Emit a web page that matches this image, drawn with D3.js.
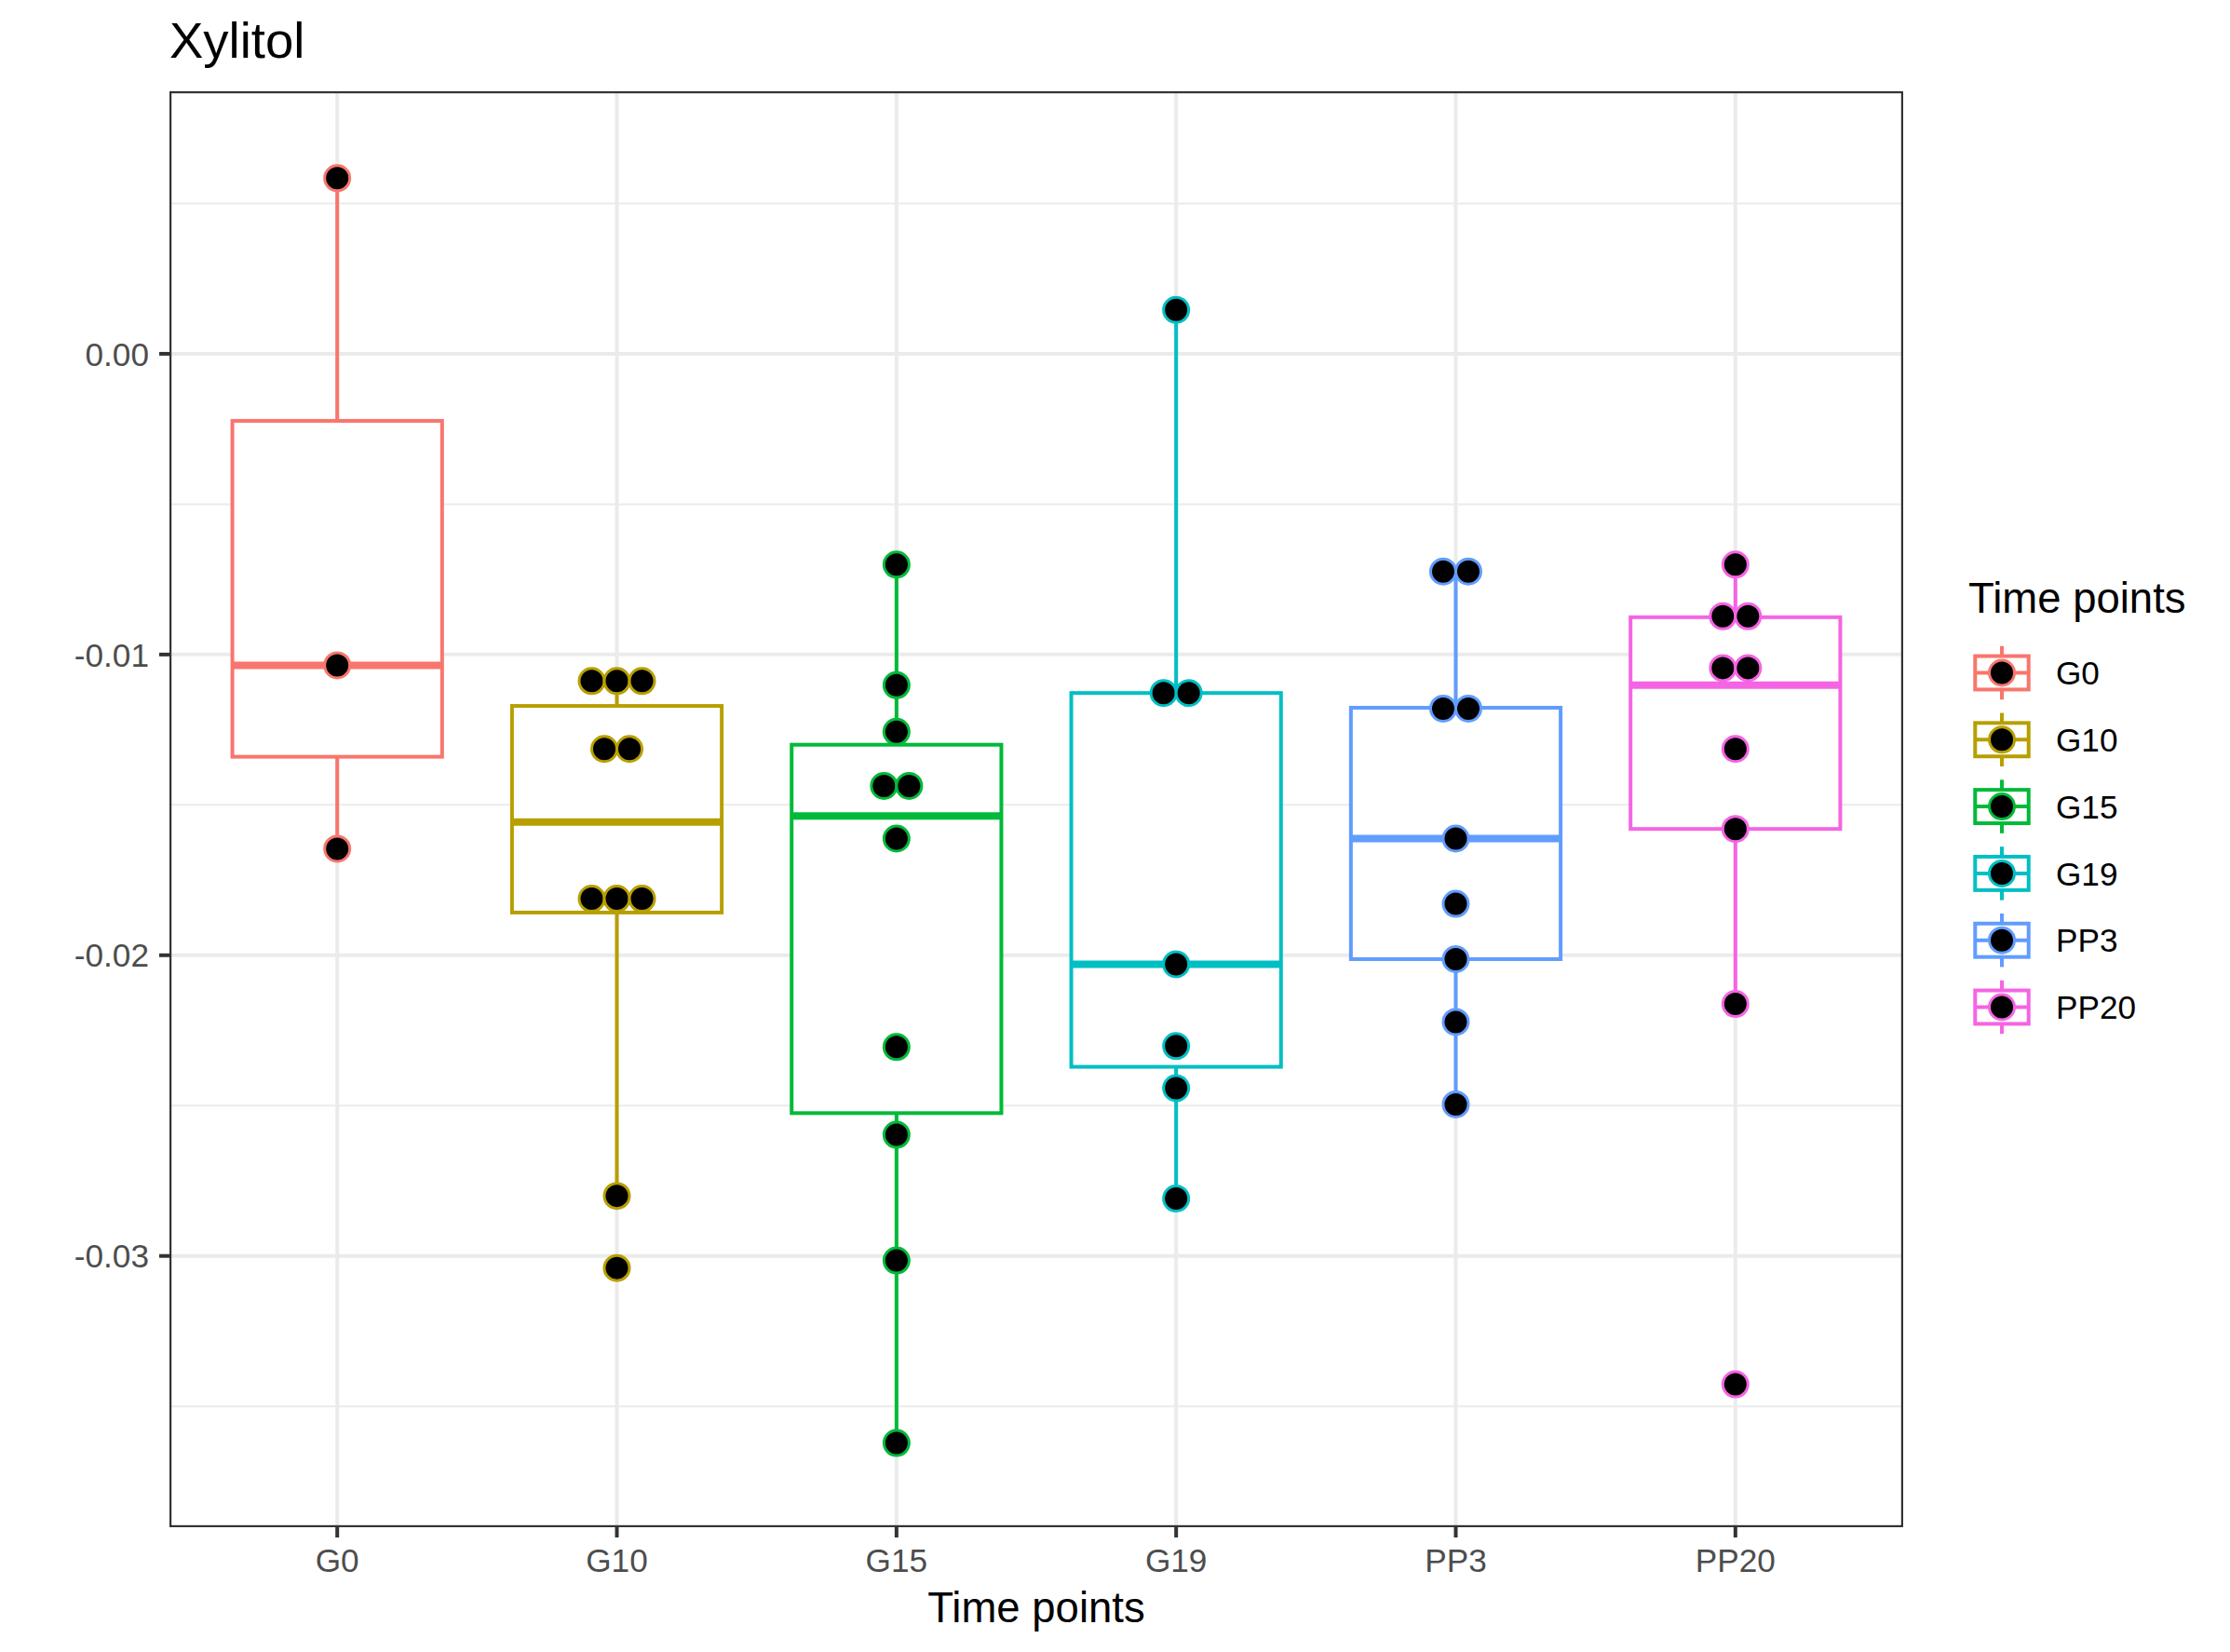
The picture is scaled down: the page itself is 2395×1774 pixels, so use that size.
<!DOCTYPE html>
<html><head><meta charset="utf-8">
<script src="https://cdn.jsdelivr.net/npm/d3@7/dist/d3.min.js"></script>
<style>
body{margin:0;background:#fff}
text{font-family:"Liberation Sans",Arial,Helvetica,sans-serif}
</style>
</head><body>
<svg id="chart" width="2395" height="1774"></svg>
<script>
// ---------- data ----------
const categories = ["G0", "G10", "G15", "G19", "PP3", "PP20"];
const colors = ["#F8766D", "#B79F00", "#00BA38", "#00BFC4", "#619CFF", "#F564E3"];

// dot-plot (binned) values per time point; repeated values stack side by side
const dotsG0   = [0.00584, -0.01036, -0.01646];
const dotsG10  = [-0.01088, -0.01088, -0.01088, -0.01314, -0.01314, -0.01812, -0.01812, -0.01812, -0.02800, -0.03040];
const dotsG15  = [-0.00701, -0.01102, -0.01257, -0.01437, -0.01437, -0.01612, -0.02305, -0.02597, -0.03015, -0.03622];
const dotsG19  = [0.00146, -0.01128, -0.01128, -0.02030, -0.02302, -0.02442, -0.02809];
const dotsPP3  = [-0.00724, -0.00724, -0.01180, -0.01180, -0.01612, -0.01829, -0.02013, -0.02222, -0.02496];
const dotsPP20 = [-0.00701, -0.00873, -0.00873, -0.01045, -0.01045, -0.01314, -0.01580, -0.02162, -0.03427];
const dotSeries = [dotsG0, dotsG10, dotsG15, dotsG19, dotsPP3, dotsPP20];

// box-plot statistics per time point
const whiskerHigh = [0.00584, -0.01088, -0.00701, 0.00146, -0.00724, -0.00701];
const q3s         = [-0.00223, -0.01171, -0.01300, -0.01128, -0.01177, -0.00876];
const medians     = [-0.01036, -0.01557, -0.01537, -0.02030, -0.01612, -0.01102];
const q1s         = [-0.01340, -0.01858, -0.02525, -0.02371, -0.02013, -0.01580];
const whiskerLow  = [-0.01646, -0.02800, -0.03622, -0.02809, -0.02496, -0.02162];

const yMajorTicks = [0.00, -0.01, -0.02, -0.03];
const yMinorTicks = [0.005, -0.005, -0.015, -0.025, -0.035];
const yLimits = [-0.03902, 0.00873];
const dotBinWidth = 0.000836;   // dot diameter in data units

const titleText = "Xylitol";
const xTitle = "Time points";
const legendTitle = "Time points";

// ---------- layout ----------
const P = {left: 182, right: 2044, top: 98, bottom: 1640};
const svg = d3.select("#chart");
svg.append("rect").attr("width", 2395).attr("height", 1774).attr("fill", "#fff");

const x = d3.scalePoint().domain(categories).range([P.left, P.right]).padding(0.6);
const y = d3.scaleLinear().domain(yLimits).range([P.bottom, P.top]);
const step = x.step();
const boxHalf = 0.375 * step;
const lw = 4;
const gridCol = "#EBEBEB";

svg.append("clipPath").attr("id", "panelClip").append("rect")
  .attr("x", P.left).attr("y", P.top).attr("width", P.right - P.left).attr("height", P.bottom - P.top);

const panel = svg.append("g").attr("clip-path", "url(#panelClip)");

// grid
panel.selectAll(".minor").data(yMinorTicks).join("line")
  .attr("x1", P.left).attr("x2", P.right).attr("y1", d => y(d)).attr("y2", d => y(d))
  .attr("stroke", gridCol).attr("stroke-width", 2);
panel.selectAll(".majorY").data(yMajorTicks).join("line")
  .attr("x1", P.left).attr("x2", P.right).attr("y1", d => y(d)).attr("y2", d => y(d))
  .attr("stroke", gridCol).attr("stroke-width", 4);
panel.selectAll(".majorX").data(categories).join("line")
  .attr("y1", P.top).attr("y2", P.bottom).attr("x1", d => x(d)).attr("x2", d => x(d))
  .attr("stroke", gridCol).attr("stroke-width", 4);

// boxplots
categories.forEach((c, i) => {
  const g = panel.append("g");
  const cx = x(c), col = colors[i];
  g.append("line").attr("x1", cx).attr("x2", cx).attr("y1", y(q3s[i])).attr("y2", y(whiskerHigh[i]))
    .attr("stroke", col).attr("stroke-width", lw);
  g.append("line").attr("x1", cx).attr("x2", cx).attr("y1", y(q1s[i])).attr("y2", y(whiskerLow[i]))
    .attr("stroke", col).attr("stroke-width", lw);
  g.append("rect").attr("x", cx - boxHalf).attr("width", 2 * boxHalf)
    .attr("y", y(q3s[i])).attr("height", y(q1s[i]) - y(q3s[i]))
    .attr("fill", "#fff").attr("stroke", col).attr("stroke-width", lw);
  g.append("line").attr("x1", cx - boxHalf).attr("x2", cx + boxHalf)
    .attr("y1", y(medians[i])).attr("y2", y(medians[i]))
    .attr("stroke", col).attr("stroke-width", 2 * lw);
});

// dots (centered stacking of equal binned values)
const dotD = Math.abs(y(0) - y(dotBinWidth));
const dotR = dotD / 2;
categories.forEach((c, i) => {
  const groups = d3.groups(dotSeries[i], v => v);
  const pts = [];
  groups.forEach(([v, arr]) => {
    arr.forEach((_, k) => pts.push({v, off: (k - (arr.length - 1) / 2) * dotD}));
  });
  panel.append("g").selectAll("circle").data(pts).join("circle")
    .attr("cx", d => x(c) + d.off).attr("cy", d => y(d.v)).attr("r", dotR)
    .attr("fill", "#000").attr("stroke", colors[i]).attr("stroke-width", 3);
});

// panel border (clipped half)
panel.append("rect").attr("x", P.left).attr("y", P.top)
  .attr("width", P.right - P.left).attr("height", P.bottom - P.top)
  .attr("fill", "none").attr("stroke", "#333333").attr("stroke-width", 4.4);

// axes
const tickLen = 11;
const axY = svg.append("g");
axY.selectAll("line").data(yMajorTicks).join("line")
  .attr("x1", P.left - tickLen).attr("x2", P.left).attr("y1", d => y(d)).attr("y2", d => y(d))
  .attr("stroke", "#333333").attr("stroke-width", lw);
axY.selectAll("text").data(yMajorTicks).join("text")
  .attr("x", P.left - tickLen - 11).attr("y", d => y(d)).attr("dy", "0.36em")
  .attr("text-anchor", "end").attr("font-size", 35.2).attr("fill", "#4D4D4D")
  .text(d => d3.format(".2f")(d).replace("−", "-"));

const axX = svg.append("g");
axX.selectAll("line").data(categories).join("line")
  .attr("x1", d => x(d)).attr("x2", d => x(d)).attr("y1", P.bottom).attr("y2", P.bottom + tickLen)
  .attr("stroke", "#333333").attr("stroke-width", lw);
axX.selectAll("text").data(categories).join("text")
  .attr("x", d => x(d)).attr("y", 1688)
  .attr("text-anchor", "middle").attr("font-size", 35.2).attr("fill", "#4D4D4D")
  .text(d => d);

svg.append("text").attr("x", (P.left + P.right) / 2).attr("y", 1742)
  .attr("text-anchor", "middle").attr("font-size", 45.5).attr("fill", "#000").text(xTitle);

svg.append("text").attr("x", P.left).attr("y", 62)
  .attr("font-size", 54.5).attr("fill", "#000").text(titleText);

// legend
const keySize = 71.8, keyCx = 2150, keyTop = 722.5 - keySize / 2;
svg.append("text").attr("x", keyCx - keySize / 2).attr("y", 658)
  .attr("font-size", 45.5).attr("fill", "#000").text(legendTitle);
categories.forEach((c, i) => {
  const cy = keyTop + keySize * (i + 0.5);
  const g = svg.append("g");
  const col = colors[i];
  g.append("line").attr("x1", keyCx).attr("x2", keyCx).attr("y1", cy - 0.4 * keySize).attr("y2", cy - 0.25 * keySize)
    .attr("stroke", col).attr("stroke-width", lw);
  g.append("line").attr("x1", keyCx).attr("x2", keyCx).attr("y1", cy + 0.25 * keySize).attr("y2", cy + 0.4 * keySize)
    .attr("stroke", col).attr("stroke-width", lw);
  g.append("rect").attr("x", keyCx - 0.4 * keySize).attr("width", 0.8 * keySize)
    .attr("y", cy - 0.25 * keySize).attr("height", 0.5 * keySize)
    .attr("fill", "#fff").attr("stroke", col).attr("stroke-width", lw);
  g.append("line").attr("x1", keyCx - 0.4 * keySize).attr("x2", keyCx + 0.4 * keySize).attr("y1", cy).attr("y2", cy)
    .attr("stroke", col).attr("stroke-width", lw);
  g.append("circle").attr("cx", keyCx).attr("cy", cy).attr("r", dotR)
    .attr("fill", "#000").attr("stroke", col).attr("stroke-width", 3);
  g.append("text").attr("x", 2208).attr("y", cy).attr("dy", "0.36em")
    .attr("font-size", 35.2).attr("fill", "#000").text(c);
});
</script>
</body></html>
